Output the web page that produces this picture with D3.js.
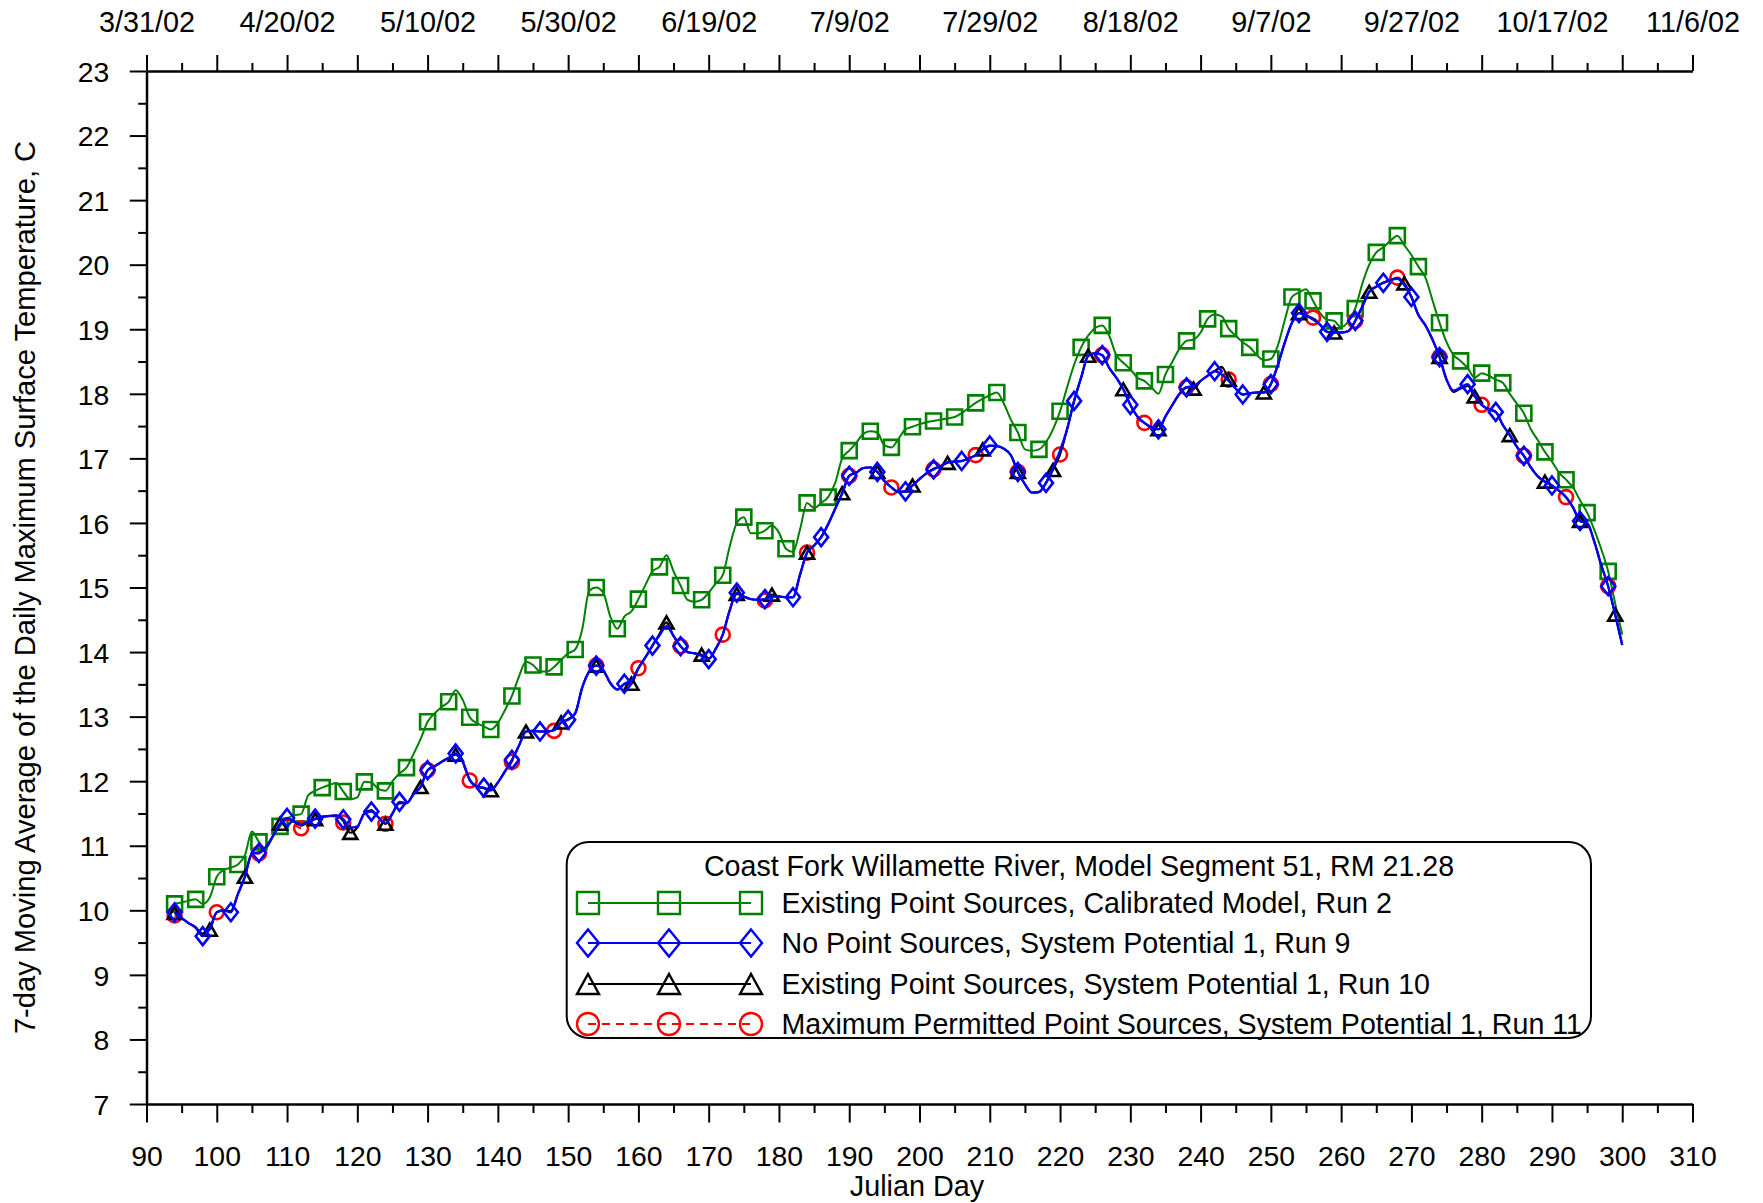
<!DOCTYPE html>
<html><head><meta charset="utf-8">
<script src="https://cdn.jsdelivr.net/npm/d3@7"></script>
<style>
body{margin:0;background:#fff}
svg{display:block;background:#fff}
text{font-family:"Liberation Sans",Arial,Helvetica,sans-serif;fill:#000}
</style>
</head><body>
<svg id="chart" width="1763" height="1203"></svg>
<script>
// ---------- DATA (7-day moving average of daily max temperature, C) ----------
const firstDay = 94; // Julian day of first value; one value per day through day 300

const run2 = [ // Existing Point Sources, Calibrated Model
10.10,10.12,10.15,10.17,10.10,10.20,10.52,10.63,10.66,10.71,
10.85,11.22,11.06,10.96,11.15,11.30,11.42,11.47,11.49,11.78,
11.85,11.90,11.94,11.97,11.84,11.72,11.75,11.99,11.98,11.88,
11.85,12.00,12.12,12.21,12.42,12.65,12.92,13.05,13.15,13.23,
13.41,13.26,12.99,12.90,12.85,12.80,12.90,13.10,13.32,13.62,
13.85,13.80,13.70,13.70,13.77,13.88,13.98,14.04,14.35,14.95,
15.00,14.92,14.55,14.36,14.55,14.63,14.82,15.04,15.25,15.32,
15.50,15.25,15.03,14.81,14.78,14.81,14.92,15.06,15.19,15.64,
16.00,16.09,15.84,15.84,15.88,15.96,15.85,15.60,15.55,15.90,
16.31,16.23,16.31,16.40,16.62,17.00,17.12,17.24,17.38,17.42,
17.40,17.20,17.17,17.30,17.45,17.49,17.53,17.56,17.58,17.60,
17.62,17.64,17.70,17.78,17.86,17.92,17.98,18.02,17.85,17.60,
17.40,17.14,17.12,17.14,17.25,17.45,17.73,18.10,18.45,18.72,
18.90,19.02,19.06,18.90,18.60,18.48,18.38,18.25,18.20,18.10,
18.00,18.30,18.50,18.70,18.82,18.84,18.95,19.16,19.23,19.20,
19.01,18.90,18.80,18.72,18.60,18.52,18.54,18.75,19.15,19.50,
19.57,19.62,19.44,19.25,19.15,19.13,19.03,19.12,19.32,19.70,
20.00,20.19,20.27,20.37,20.45,20.30,20.15,19.97,19.80,19.45,
19.10,18.80,18.60,18.51,18.40,18.25,18.32,18.28,18.22,18.17,
18.00,17.85,17.70,17.45,17.28,17.10,16.95,16.78,16.67,16.55,
16.35,16.16,15.90,15.60,15.25,14.75,14.27];

const run9 = [ // No Point Sources, System Potential 1
9.97,9.88,9.80,9.73,9.60,9.72,9.97,10.00,9.97,10.25,
10.52,10.88,10.89,10.98,11.15,11.34,11.43,11.38,11.33,11.37,
11.42,11.45,11.46,11.47,11.41,11.28,11.30,11.50,11.53,11.44,
11.35,11.50,11.68,11.66,11.80,11.91,12.17,12.23,12.30,12.36,
12.43,12.30,12.02,11.92,11.90,11.86,11.98,12.15,12.33,12.55,
12.77,12.78,12.77,12.77,12.79,12.91,12.95,13.05,13.45,13.70,
13.79,13.72,13.52,13.42,13.51,13.56,13.75,13.92,14.10,14.26,
14.40,14.25,14.09,14.00,13.98,13.94,13.89,14.05,14.27,14.65,
14.92,14.86,14.82,14.81,14.82,14.86,14.86,14.85,14.85,15.20,
15.54,15.65,15.78,15.98,16.22,16.46,16.73,16.78,16.85,16.86,
16.79,16.65,16.55,16.48,16.49,16.58,16.68,16.77,16.83,16.88,
16.94,16.95,16.96,17.00,17.05,17.14,17.20,17.19,17.15,17.05,
16.79,16.60,16.47,16.48,16.62,16.86,17.12,17.45,17.89,18.25,
18.59,18.63,18.60,18.40,18.25,18.07,17.83,17.65,17.55,17.48,
17.45,17.65,17.83,18.00,18.10,18.12,18.20,18.28,18.35,18.30,
18.20,18.08,17.99,18.01,18.02,18.02,18.15,18.45,18.80,19.10,
19.25,19.21,19.15,19.07,18.96,18.95,18.95,18.97,19.13,19.35,
19.58,19.66,19.72,19.76,19.78,19.68,19.50,19.22,19.06,18.84,
18.57,18.22,18.05,18.10,18.15,17.98,17.83,17.76,17.72,17.52,
17.36,17.18,17.04,16.86,16.72,16.64,16.58,16.50,16.40,16.24,
16.03,16.00,15.72,15.35,15.02,14.58,14.11];

const run10 = [ // Existing Point Sources, System Potential 1
9.96,9.88,9.80,9.74,9.64,9.70,9.97,10.00,9.99,10.25,
10.52,10.88,10.90,10.98,11.15,11.34,11.42,11.37,11.31,11.37,
11.41,11.45,11.46,11.47,11.38,11.20,11.28,11.50,11.55,11.44,
11.34,11.50,11.66,11.66,11.80,11.91,12.17,12.23,12.30,12.36,
12.41,12.30,12.02,11.92,11.89,11.86,11.98,12.15,12.32,12.55,
12.77,12.78,12.77,12.77,12.79,12.91,12.96,13.05,13.45,13.70,
13.79,13.72,13.52,13.42,13.50,13.51,13.75,13.92,14.10,14.28,
14.46,14.25,14.09,14.00,13.98,13.96,13.90,14.05,14.27,14.65,
14.90,14.86,14.82,14.81,14.81,14.89,14.86,14.85,14.85,15.20,
15.54,15.65,15.78,15.98,16.22,16.46,16.73,16.78,16.85,16.86,
16.79,16.65,16.55,16.48,16.49,16.58,16.68,16.77,16.84,16.88,
16.93,16.95,16.96,17.00,17.05,17.14,17.19,17.19,17.15,17.05,
16.79,16.60,16.47,16.48,16.62,16.82,17.06,17.45,17.89,18.25,
18.59,18.63,18.60,18.40,18.25,18.07,17.83,17.65,17.55,17.48,
17.45,17.65,17.83,18.00,18.10,18.08,18.20,18.28,18.35,18.42,
18.22,18.08,17.99,18.01,18.02,18.02,18.15,18.45,18.80,19.10,
19.25,19.21,19.17,19.07,18.96,18.95,18.95,18.97,19.13,19.35,
19.58,19.66,19.72,19.76,19.79,19.71,19.50,19.22,19.06,18.84,
18.57,18.22,18.03,18.08,18.12,17.96,17.83,17.76,17.72,17.52,
17.36,17.18,17.04,16.86,16.72,16.64,16.58,16.50,16.40,16.24,
16.03,16.00,15.72,15.35,15.02,14.58,14.11];

const run11 = [ // Maximum Permitted Point Sources, System Potential 1
9.92,9.87,9.80,9.74,9.64,9.72,9.97,10.00,9.99,10.25,
10.52,10.86,10.88,10.98,11.15,11.34,11.40,11.33,11.27,11.35,
11.41,11.45,11.46,11.45,11.36,11.22,11.28,11.50,11.55,11.44,
11.34,11.50,11.66,11.66,11.80,11.91,12.17,12.23,12.30,12.36,
12.41,12.28,12.01,11.92,11.89,11.86,11.98,12.15,12.30,12.55,
12.77,12.78,12.77,12.77,12.78,12.91,12.96,13.05,13.45,13.70,
13.79,13.72,13.52,13.42,13.50,13.55,13.75,13.92,14.10,14.28,
14.44,14.25,14.09,14.00,13.98,13.96,13.90,14.05,14.27,14.65,
14.90,14.86,14.82,14.81,14.80,14.86,14.86,14.85,14.85,15.20,
15.54,15.65,15.78,15.98,16.22,16.46,16.73,16.78,16.85,16.86,
16.79,16.65,16.55,16.48,16.49,16.58,16.68,16.77,16.83,16.88,
16.93,16.95,16.96,17.00,17.05,17.14,17.19,17.19,17.15,17.05,
16.79,16.60,16.47,16.48,16.62,16.84,17.06,17.45,17.89,18.25,
18.59,18.63,18.60,18.40,18.25,18.07,17.83,17.62,17.55,17.48,
17.45,17.65,17.83,18.00,18.10,18.08,18.20,18.28,18.35,18.40,
18.22,18.08,17.99,18.01,18.02,18.02,18.15,18.45,18.80,19.10,
19.25,19.21,19.18,19.07,18.96,18.95,18.95,18.97,19.13,19.35,
19.58,19.66,19.72,19.76,19.80,19.71,19.50,19.22,19.06,18.84,
18.57,18.22,18.03,18.08,18.12,17.96,17.83,17.76,17.72,17.52,
17.36,17.18,17.04,16.86,16.72,16.64,16.58,16.50,16.40,16.24,
16.03,16.00,15.72,15.35,15.02,14.58,14.11];

const seriesNames = [
  "Existing Point Sources, Calibrated Model, Run 2",
  "No Point Sources, System Potential 1, Run 9",
  "Existing Point Sources, System Potential 1, Run 10",
  "Maximum Permitted Point Sources, System Potential 1, Run 11"];
const legendTitle = "Coast Fork Willamette River, Model Segment 51, RM 21.28";
const markerEvery = [3, 4, 5, 6]; // symbol frequency (days) per series

const xTickValues = [90,100,110,120,130,140,150,160,170,180,190,200,210,220,230,240,250,260,270,280,290,300,310];
const yTickValues = [7,8,9,10,11,12,13,14,15,16,17,18,19,20,21,22,23];
const dateTickDays = [90,110,130,150,170,190,210,230,250,270,290,310];
const dateLabels = ["3/31/02","4/20/02","5/10/02","5/30/02","6/19/02","7/9/02","7/29/02","8/18/02","9/7/02","9/27/02","10/17/02","11/6/02"];
const xTitle = "Julian Day";
const yTitle = "7-day Moving Average of the Daily Maximum Surface Temperature, C";

// ---------- LAYOUT ----------
const svg = d3.select("#chart");
const L = 146.5, R = 1692.5, T = 71, B = 1104;
const x = d3.scaleLinear().domain([90, 310]).range([L, R]);
const y = d3.scaleLinear().domain([7, 23]).range([B, T]);

const styles = [
  {color:"#008000", width:2,   dash:null,  sym:"square"},
  {color:"#0000ff", width:2.4, dash:null,  sym:"diamond"},
  {color:"#000000", width:2,   dash:null,  sym:"triangle"},
  {color:"#ff0000", width:2,   dash:"8,6", sym:"circle"}
];
const seriesData = [run2, run9, run10, run11].map(arr => arr.map((v, i) => ({day: firstDay + i, t: v})));

function symPath(type, w, h) {
  const a = w / 2, b = h / 2;
  if (type === "square") return `M${-a},${-b}H${a}V${b}H${-a}Z`;
  if (type === "diamond") return `M0,${-b}L${a},0L0,${b}L${-a},0Z`;
  if (type === "triangle") return `M0,${-b}L${a},${b}L${-a},${b}Z`;
  return `M${-a},0A${a},${a} 0 1,0 ${a},0A${a},${a} 0 1,0 ${-a},0Z`;
}
const plotSize = {square:[15,15], diamond:[14,18], triangle:[14,12], circle:[14,14]};
const legSize = {square:[22,22], diamond:[22,27], triangle:[22,20], circle:[22,22]};

// ---------- AXES ----------
function styleAxis(g) {
  g.attr("font-family", null);
  g.select(".domain").attr("stroke", "#000").attr("stroke-width", 2.5);
  g.selectAll(".tick line").attr("stroke", "#000").attr("stroke-width", 2);
  g.selectAll("text").attr("fill", "#000");
}
const minorX = d3.range(0, xTickValues.length - 1).map(i => (xTickValues[i] + xTickValues[i + 1]) / 2);
const minorY = d3.range(0, yTickValues.length - 1).map(i => (yTickValues[i] + yTickValues[i + 1]) / 2);
const minorStyle = g => { g.select(".domain").remove(); g.selectAll(".tick line").attr("stroke", "#000").attr("stroke-width", 2); };

// bottom
svg.append("g").attr("transform", `translate(0,${B})`)
  .call(d3.axisBottom(x).tickValues(minorX).tickSize(9).tickFormat("").tickSizeOuter(0))
  .call(minorStyle);
svg.append("g").attr("transform", `translate(0,${B})`)
  .call(d3.axisBottom(x).tickValues(xTickValues).tickSize(18.5).tickPadding(23).tickSizeOuter(0).tickFormat(d3.format("d")))
  .call(styleAxis)
  .call(g => g.selectAll("text").attr("font-size", 28.4));

// top
svg.append("g").attr("transform", `translate(0,${T})`)
  .call(d3.axisTop(x).tickValues(minorX).tickSize(8).tickFormat("").tickSizeOuter(0))
  .call(minorStyle);
svg.append("g").attr("transform", `translate(0,${T})`)
  .call(d3.axisTop(x).tickValues(xTickValues).tickSize(16).tickPadding(23).tickSizeOuter(0)
    .tickFormat(d => { const k = dateTickDays.indexOf(d); return k >= 0 ? dateLabels[k] : ""; }))
  .call(styleAxis)
  .call(g => g.selectAll("text").attr("font-size", 28.8));

// left
svg.append("g").attr("transform", `translate(${L},0)`)
  .call(d3.axisLeft(y).tickValues(minorY).tickSize(8.3).tickFormat("").tickSizeOuter(0))
  .call(minorStyle);
svg.append("g").attr("transform", `translate(${L},0)`)
  .call(d3.axisLeft(y).tickValues(yTickValues).tickSize(16.7).tickPadding(20.5).tickSizeOuter(0).tickFormat(d3.format("d")))
  .call(styleAxis)
  .call(g => g.selectAll("text").attr("font-size", 28.4).attr("dy", "0.36em"));

// titles
svg.append("text").attr("x", 917).attr("y", 1196).attr("text-anchor", "middle")
  .attr("font-size", 28.8).text(xTitle);
svg.append("text").attr("transform", `translate(35,${(T + B) / 2}) rotate(-90)`)
  .attr("text-anchor", "middle").attr("font-size", 29.1).text(yTitle);

// ---------- SERIES ----------
const line = d3.line().x(d => x(d.day)).y(d => y(d.t)).curve(d3.curveMonotoneX);
const drawOrder = [0, 3, 2, 1]; // green, red, black, blue on top
const plotG = svg.append("g");
drawOrder.forEach(k => {
  const st = styles[k];
  plotG.append("path").datum(seriesData[k])
    .attr("fill", "none").attr("stroke", st.color).attr("stroke-width", st.width)
    .attr("stroke-dasharray", st.dash).attr("stroke-linejoin", "round")
    .attr("d", line);
  const [w, h] = plotSize[st.sym];
  plotG.append("g").selectAll("path")
    .data(seriesData[k].filter((d, i) => i % markerEvery[k] === 0))
    .join("path")
    .attr("transform", d => `translate(${x(d.day)},${y(d.t)})`)
    .attr("d", symPath(st.sym, w, h))
    .attr("fill", "none").attr("stroke", st.color).attr("stroke-width", 2.6);
});

// ---------- LEGEND ----------
const lg = svg.append("g");
lg.append("rect").attr("x", 566.7).attr("y", 842).attr("width", 1024.3).attr("height", 196)
  .attr("rx", 22).attr("ry", 22).attr("fill", "#fff").attr("stroke", "#000").attr("stroke-width", 2);
lg.append("text").attr("x", 1079).attr("y", 876).attr("text-anchor", "middle")
  .attr("font-size", 28.6).text(legendTitle);
const rowBase = [913, 953, 994, 1034];
const symX = [588, 669, 751];
seriesNames.forEach((name, k) => {
  const st = styles[k];
  const cy = rowBase[k] - 10;
  lg.append("line").attr("x1", symX[0]).attr("x2", symX[2]).attr("y1", cy).attr("y2", cy)
    .attr("stroke", st.color).attr("stroke-width", 2).attr("stroke-dasharray", st.dash);
  const [w, h] = legSize[st.sym];
  symX.forEach(sx => {
    lg.append("path").attr("transform", `translate(${sx},${cy})`)
      .attr("d", symPath(st.sym, w, h)).attr("fill", "none")
      .attr("stroke", st.color).attr("stroke-width", 2.4);
  });
  lg.append("text").attr("x", 781.5).attr("y", rowBase[k]).attr("font-size", 28.6).text(name);
});
</script>
</body></html>
